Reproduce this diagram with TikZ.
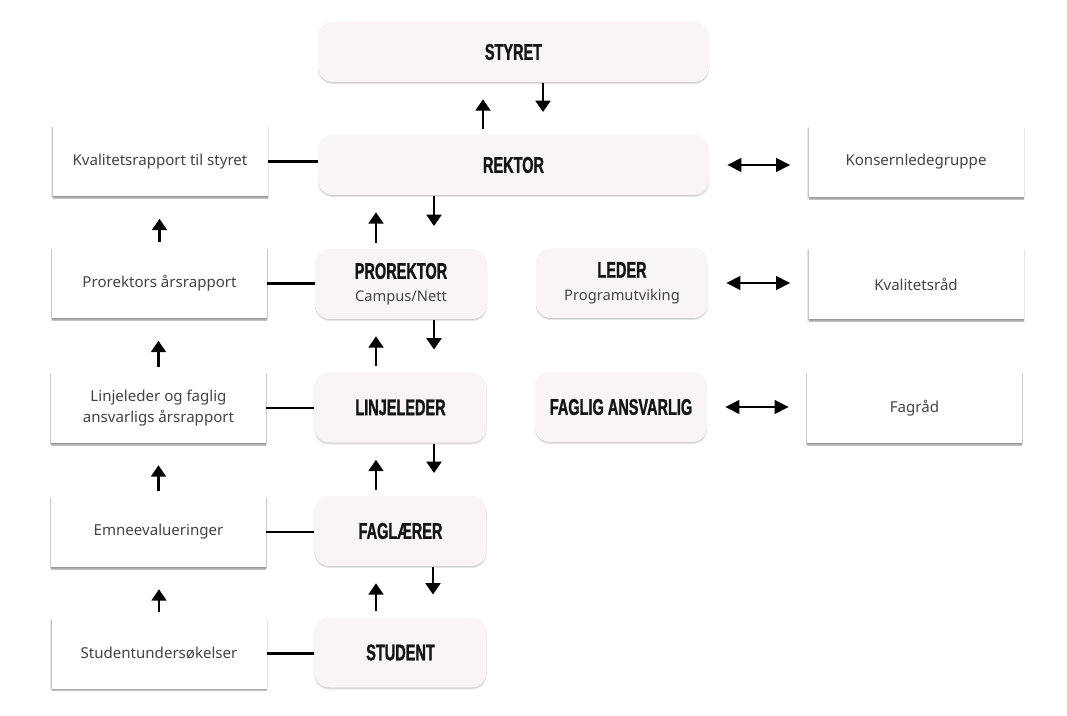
\documentclass[tikz,border=0pt]{standalone}
\usepackage{fontspec}
\setmainfont{Noto Sans}
\newfontfamily\headfont{Liberation Sans}[FakeStretch=0.64,FakeBold=1.2]
\usetikzlibrary{arrows.meta,shadows,calc}
\definecolor{boxfill}{HTML}{F8F5F4}
\definecolor{txt}{HTML}{444444}
\definecolor{ink}{HTML}{151515}
\newcommand\subtxt[1]{{\normalfont\color{txt}\fontsize{11}{13}\selectfont #1}}
\begin{document}
\begin{tikzpicture}[x=0.75pt,y=-0.75pt,
  head/.style={rounded corners=11pt, fill=boxfill, minimum width=129pt, minimum height=52.5pt,
    align=center, text=ink, inner sep=0pt,
    font=\headfont\bfseries\fontsize{17}{18}\selectfont,
    drop shadow={shadow xshift=0pt, shadow yshift=-1.5pt, opacity=0.10, fill=black},
    drop shadow={shadow xshift=0pt, shadow yshift=-0.6pt, opacity=0.10, fill=black}},
  wide/.style={minimum width=293.25pt, minimum height=45pt},
  rep/.style={fill=white, minimum width=161.25pt, minimum height=52.5pt, align=center,
    text=txt, inner sep=0pt, font=\fontsize{11.3}{16}\selectfont,
    drop shadow={shadow xshift=0pt, shadow yshift=-1pt, shadow scale=1.01, opacity=0.10, fill=black},
    drop shadow={shadow xshift=0pt, shadow yshift=-2.2pt, opacity=0.35, fill=black!70},
    drop shadow={shadow xshift=0pt, shadow yshift=-0.4pt, shadow scale=1.006, opacity=0.12, fill=black}},
  link/.style={line width=2pt},
  arr/.style={line width=2.1pt, -{Triangle[width=11pt,length=8.5pt]}},
  up/.style={arr, shorten <=4.5pt, shorten >=12.75pt},
  down/.style={arr, shorten <=0.8pt, shorten >=17pt},
  lup/.style={arr, shorten <=4.5pt, shorten >=16.5pt},
  dbl/.style={line width=2.1pt, {Triangle[width=10pt,length=10.5pt]}-{Triangle[width=10pt,length=10.5pt]}, shorten <=13.5pt, shorten >=13.5pt}
]
\useasboundingbox[fill=white] (0,0) rectangle (1067,716);

% central column
\node[head, wide] (styret) at (513.5,52) {STYRET};
\node[head, wide] (rektor) at (513.5,165) {REKTOR};
\node[head] (prorektor) at (401,284) {PROREKTOR\\[-1pt]\subtxt{Campus/Nett}};
\node[head] (linjeleder) at (400.5,407.5) {LINJELEDER};
\node[head] (faglaerer) at (400.5,531) {FAGLÆRER};
\node[head] (student) at (400.5,652.5) {STUDENT};
\node[head] (leder) at (622,283) {LEDER\\[-1pt]\subtxt{Programutviking}};
\node[head] (faglig) at (621,407) {FAGLIG ANSVARLIG};

% left column
\node[rep] (kval) at (160,161.5) {Kvalitetsrapport til styret};
\node[rep] (prorap) at (159.5,283.5) {Prorektors årsrapport};
\node[rep] (linjerap) at (158.5,408) {Linjeleder og faglig\\ansvarligs årsrapport};
\node[rep] (emne) at (158.5,532) {Emneevalueringer};
\node[rep] (studus) at (159,653.5) {Studentundersøkelser};

% right column
\node[rep] (konsern) at (916,162) {Konsernledegruppe};
\node[rep] (kvalrad) at (916,284) {Kvalitetsråd};
\node[rep] (fagrad) at (914.5,408) {Fagråd};

% vertical arrows, central column
\coordinate (u1) at ($(styret.south)+(-30.5,0)$);
\coordinate (d1) at ($(styret.south)+(29.5,0)$);
\draw[up] (u1 |- rektor.north) -- (u1);
\draw[down] (d1) -- (d1 |- rektor.north);

\coordinate (u2) at ($(prorektor.north)+(-25,0)$);
\coordinate (d2) at ($(prorektor.north)+(33,0)$);
\draw[up] (u2) -- (u2 |- rektor.south);
\draw[down] (d2 |- rektor.south) -- (d2);

\coordinate (u3) at ($(linjeleder.north)+(-24.5,0)$);
\coordinate (d3) at ($(linjeleder.north)+(33.5,0)$);
\draw[up] (u3) -- (u3 |- prorektor.south);
\draw[down] (d3 |- prorektor.south) -- (d3);

\coordinate (u4) at ($(faglaerer.north)+(-24.5,0)$);
\coordinate (d4) at ($(faglaerer.north)+(33.5,0)$);
\draw[up] (u4) -- (u4 |- linjeleder.south);
\draw[down] (d4 |- linjeleder.south) -- (d4);

\coordinate (u5) at ($(student.north)+(-24.5,0)$);
\coordinate (d5) at ($(student.north)+(32.5,0)$);
\draw[up] (u5) -- (u5 |- faglaerer.south);
\draw[down] (d5 |- faglaerer.south) -- (d5);

% left column arrows
\draw[lup] (prorap.north) -- (prorap.north |- kval.south);
\draw[lup] (linjerap.north) -- (linjerap.north |- prorap.south);
\draw[lup] (emne.north) -- (emne.north |- linjerap.south);
\draw[lup] (studus.north) -- (studus.north |- emne.south);

% horizontal links
\draw[link] (kval.east) -- (kval.east -| rektor.west);
\draw[link] (prorap.east) -- (prorap.east -| prorektor.west);
\draw[link] (linjerap.east) -- (linjerap.east -| linjeleder.west);
\draw[link] (emne.east) -- (emne.east -| faglaerer.west);
\draw[link] (studus.east) -- (studus.east -| student.west);

% double arrows
\draw[dbl] (rektor.east) -- (rektor.east -| konsern.west);
\draw[dbl] (leder.east) -- (leder.east -| kvalrad.west);
\draw[dbl] (faglig.east) -- (faglig.east -| fagrad.west);
\end{tikzpicture}
\end{document}
